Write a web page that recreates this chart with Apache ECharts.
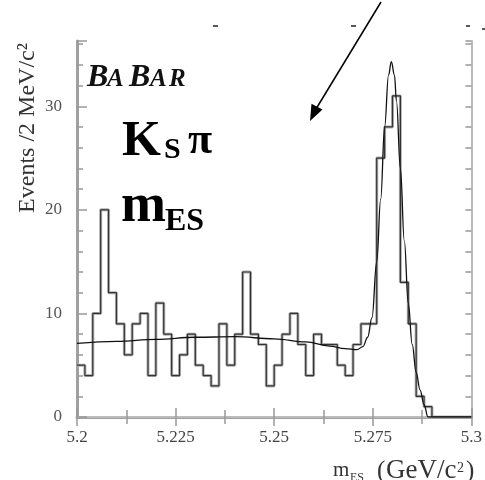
<!DOCTYPE html>
<html>
<head>
<meta charset="utf-8">
<script src="https://cdn.jsdelivr.net/npm/echarts@6/dist/echarts.min.js"></script>
<style>html,body{margin:0;padding:0;background:#fff;}#c{width:485px;height:480px;}</style>
</head>
<body>
<div id="c"></div>
<script>
// ---- data ----
const binStart = 5.2;
const binWidth = 0.002;
const counts = [5,4,10,20,12,9,6,9,10,4,
                11,8,4,6,8,5,4,3,9,5,
                8,14,8,7,3,5,8,10,7,4,
                8,7,7,5,4,7,9,9,25,28,
                31,13,9,2,1,0,0,0,0,0];
const fitX = [5.200,5.210,5.220,5.230,5.240,5.250,5.258,5.264,5.268,5.271,5.2725,5.2737,5.2748,5.276,5.277,5.278,5.279,5.2797,5.2805,5.281,5.282,5.283,5.284,5.285,5.286,5.287,5.288,5.289,5.300];
const fitY = [7.1,7.3,7.5,7.7,7.75,7.55,7.25,6.85,6.6,6.5,6.8,7.7,9.6,15.0,21.0,28.0,33.0,34.3,33.0,30.5,24.0,17.0,11.0,7.0,4.3,2.6,1.2,0,0];
const xTickLabels = ['5.2','5.225','5.25','5.275','5.3'];
const yTickLabels = ['0','10','20','30'];

const histData = counts.map((c, i) => [binStart + i * binWidth, c]);
histData.push([binStart + counts.length * binWidth, counts[counts.length - 1]]);
const fitData = fitX.map((x, i) => [x, fitY[i]]);

const serif = '"Liberation Serif","DejaVu Serif",serif';
const chart = echarts.init(document.getElementById('c'), null, {renderer: 'canvas'});

const axisCommonX = {
  type: 'value', min: 5.2, max: 5.3, interval: 0.025,
  splitLine: {show: false},
  axisTick: {show: true, inside: true, length: 9, lineStyle: {color: '#999', width: 1.5}},
  minorTick: {show: true, splitNumber: 2, length: 7, lineStyle: {color: '#999', width: 1.5}},
  minorSplitLine: {show: false}
};
const axisCommonY = {
  type: 'value', min: 0, max: 36.3, interval: 2,
  splitLine: {show: false},
  axisTick: {show: true, inside: true, length: 6, lineStyle: {color: '#999', width: 1.5}}
};

function txt(x, y, text, font, fill) {
  return {type: 'text', x: x, y: y, style: {text: text, font: font, fill: fill, align: 'left', verticalAlign: 'bottom'}};
}

chart.setOption({
  animation: false,
  backgroundColor: '#fff',
  grid: {left: 77, right: 12, top: 41, bottom: 63, containLabel: false},
  xAxis: [
    Object.assign({}, axisCommonX, {
      position: 'bottom',
      axisLine: {show: true, lineStyle: {color: '#a0a0a0', width: 3}},
      axisLabel: {show: true, margin: 12, color: '#444', fontSize: 17, fontFamily: serif,
        formatter: (v, i) => xTickLabels[i] !== undefined ? xTickLabels[i] : ''}
    }),
    Object.assign({}, axisCommonX, {
      position: 'top',
      axisLine: {show: true, lineStyle: {color: '#bbb', width: 2}},
      axisLabel: {show: false}
    })
  ],
  yAxis: [
    Object.assign({}, axisCommonY, {
      position: 'left',
      axisLine: {show: true, lineStyle: {color: '#a0a0a0', width: 3}},
      axisLabel: {show: true, margin: 15, color: '#555', fontSize: 17, fontFamily: serif,
        formatter: v => yTickLabels.indexOf(String(v)) >= 0 ? String(v) : ''}
    }),
    Object.assign({}, axisCommonY, {
      position: 'right',
      axisLine: {show: true, lineStyle: {color: '#bbb', width: 2}},
      axisLabel: {show: false}
    }),
    {
      type: 'value', min: 0, max: 36.3, interval: 10, position: 'left',
      splitLine: {show: false},
      axisLine: {show: false},
      axisLabel: {show: false},
      axisTick: {show: true, inside: true, length: 10, lineStyle: {color: '#999', width: 1.5}}
    }
  ],
  series: [
    {
      type: 'line', step: 'end', data: histData, symbol: 'none', silent: true,
      xAxisIndex: 0, yAxisIndex: 0,
      lineStyle: {color: '#b0b0b0', width: 3}, z: 2
    },
    {
      type: 'line', step: 'end', data: histData, symbol: 'none', silent: true,
      xAxisIndex: 0, yAxisIndex: 0,
      lineStyle: {color: '#333', width: 1.2}, z: 3
    },
    {
      type: 'line', smooth: 0.4, smoothMonotone: 'x', data: fitData, symbol: 'none', silent: true,
      xAxisIndex: 0, yAxisIndex: 0,
      lineStyle: {color: '#111', width: 1.3}, z: 4
    }
  ],
  graphic: [
    // BaBar logo
    txt(87, 94, 'B', 'italic bold 32px ' + serif, '#111'),
    txt(107, 92, 'A', 'italic bold 25px ' + serif, '#111'),
    txt(129, 94, 'B', 'italic bold 32px ' + serif, '#111'),
    txt(150, 92, 'A', 'italic bold 25px ' + serif, '#111'),
    txt(169, 92, 'R', 'italic bold 25px ' + serif, '#111'),
    // K_S pi
    txt(122, 167, 'K', 'bold 50px ' + serif, '#000'),
    txt(164, 165, 'S', 'bold 30px ' + serif, '#000'),
    txt(188, 164, 'π', 'bold 44px ' + serif, '#000'),
    // m_ES
    txt(121, 234, 'm', 'bold 54px ' + serif, '#000'),
    txt(165, 238, 'ES', 'bold 32px ' + serif, '#000'),
    // y axis title
    {type: 'text', x: 28, y: 128, rotation: Math.PI / 2,
      style: {text: 'Events /2 MeV/c²', font: '24px ' + serif, fill: '#333', align: 'center', verticalAlign: 'middle'}},
    // x axis title
    txt(333, 481, 'm', '21px ' + serif, '#333'),
    txt(350, 484, 'ES', '12px ' + serif, '#333'),
    txt(377, 484, '(', '25px ' + serif, '#333'),
    txt(386, 484, 'GeV/c', '27px ' + serif, '#333'),
    txt(457, 475, '2', '14px ' + serif, '#333'),
    txt(466, 484, ')', '25px ' + serif, '#333'),
    // arrow
    {type: 'line', shape: {x1: 381, y1: 2, x2: 316, y2: 109}, style: {stroke: '#000', lineWidth: 1.5}},
    {type: 'polygon', shape: {points: [[310, 121], [322.5, 109.5], [311.5, 103.8]]}, style: {fill: '#000'}},
    // small marks at the top
    {type: 'line', shape: {x1: 213, y1: 26, x2: 218, y2: 26}, style: {stroke: '#222', lineWidth: 1.5}},
    {type: 'line', shape: {x1: 351, y1: 26, x2: 356, y2: 26}, style: {stroke: '#222', lineWidth: 1.5}},
    {type: 'line', shape: {x1: 466, y1: 26, x2: 470, y2: 26}, style: {stroke: '#222', lineWidth: 1.5}},
    {type: 'line', shape: {x1: 482, y1: 29, x2: 485, y2: 29}, style: {stroke: '#222', lineWidth: 1.5}}
  ]
});
</script>
</body>
</html>
